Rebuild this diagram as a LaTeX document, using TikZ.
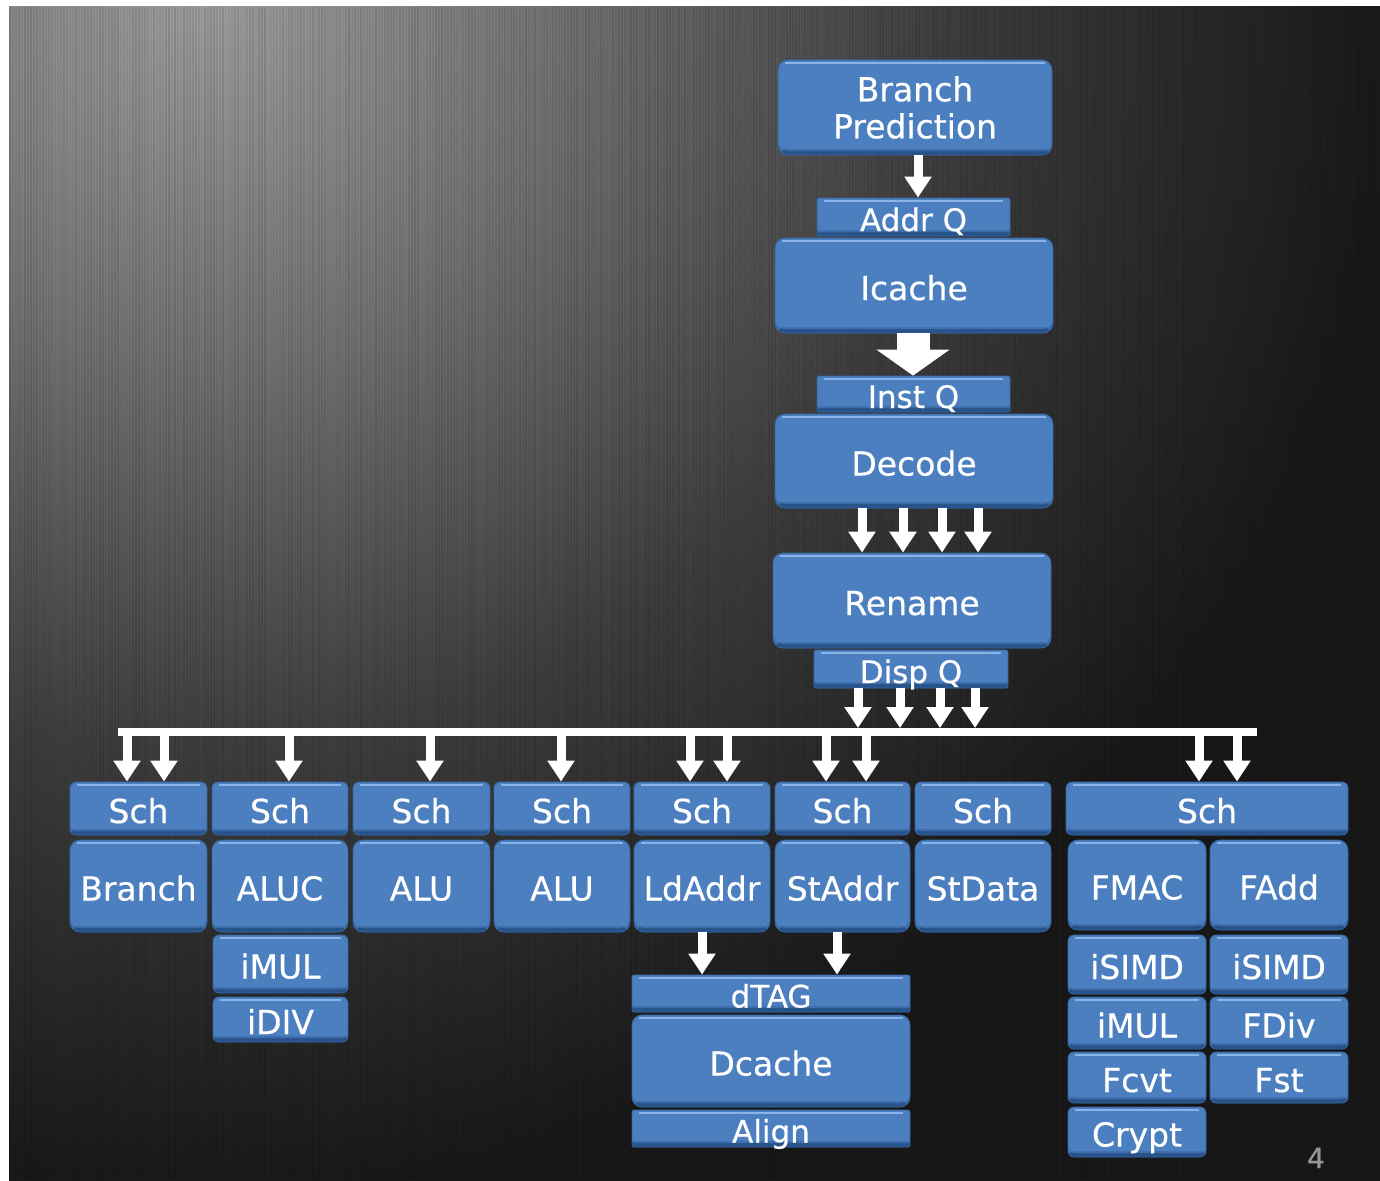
\documentclass[tikz,border=0pt]{standalone}
\usepackage{fontspec}
\setmainfont{DejaVu Sans}[FakeBold=0.5]
\usetikzlibrary{arrows.meta,calc}

\definecolor{face}{RGB}{76,127,192}
\definecolor{rim}{RGB}{40,82,138}
\definecolor{hilite}{RGB}{138,180,232}
\definecolor{slidedark}{RGB}{24,24,24}
\definecolor{glowA}{RGB}{158,158,158}
\definecolor{glowB}{RGB}{114,114,114}
\definecolor{glowC}{RGB}{62,62,62}
\definecolor{pagenum}{RGB}{150,150,150}

% soft light from the upper left of the slide
\pgfdeclareradialshading{slideglow}{\pgfpoint{0bp}{0bp}}{%
  color(0bp)=(glowA); color(3.6bp)=(glowB); color(7.5bp)=(glowC);
  color(12bp)=(slidedark); color(50bp)=(slidedark)}

\tikzset{
  unitbase/.style={fill=face, draw=rim!60!face, line width=0.8pt, text=white,
    inner sep=0pt, align=center, font=\fontsize{33}{37}\selectfont,
    path picture={
      \fill[rim] ([yshift=6pt]path picture bounding box.south west)
        rectangle (path picture bounding box.south east);
      \fill[face!65!rim] ([yshift=6pt]path picture bounding box.south west)
        rectangle ([yshift=4pt]path picture bounding box.south east);
      \draw[hilite, line width=1.8pt]
        ([xshift=7pt,yshift=-3pt]path picture bounding box.north west) --
        ([xshift=-7pt,yshift=-3pt]path picture bounding box.north east);
    }},
  unit/.style={unitbase, text height=29pt, text depth=0pt},
  twoline/.style={unitbase, rounded corners=10pt},
  bigbox/.style={unit, rounded corners=10pt},
  smallbox/.style={unit, rounded corners=6pt},
  queue/.style={unitbase, rounded corners=2pt, font=\fontsize{31}{35}\selectfont,
    text height=28pt, text depth=0pt},
  arr/.style={draw=white, line width=9pt, -{Triangle[width=26pt,length=21pt]}},
  bigarr/.style={draw=white, line width=33pt, -{Triangle[width=72pt,length=26pt]}},
  busline/.style={draw=white, line width=8pt},
}

% block given by its corners (x1,y1) (x2,y2) in pixel units
\newcommand\blk[7]{%
  \node[#1, minimum width={(#5-#3)*1pt}, minimum height={(#6-#4)*1pt}]
    (#2) at ({(#3+#5)/2},{(#4+#6)/2}) {#7};}

\begin{document}
\begin{tikzpicture}[x=1pt,y=-1pt]
\useasboundingbox (0,0) rectangle (1380,1180);

% slide background
\fill[white] (0,0) rectangle (1380,1180);
\begin{scope}
  \clip (9,7) rectangle (1380,1180);
  \fill[slidedark] (9,7) rectangle (1380,1180);
  \shade[shading=slideglow] (200,0) circle (2500pt);
  \pgfmathsetseed{7}
  \foreach \i in {0,...,456} {
    \pgfmathsetmacro\op{0.03+0.09*rnd}
    \draw[black, opacity=\op, line width=1.2pt] ({10+3*\i},7) -- ({10+3*\i},1180);
  }
\end{scope}

% front end
\blk{twoline}{bp}{778}{60}{1052}{155}{Branch\\Prediction}
\blk{queue}{addrq}{817}{198}{1010}{236}{Addr Q}
\blk{bigbox}{icache}{775}{238}{1053}{333}{Icache}
\blk{queue}{instq}{817}{376}{1010}{412}{Inst Q}
\blk{bigbox}{decode}{775}{414}{1053}{508}{Decode}
\blk{bigbox}{rename}{773}{553}{1051}{648}{Rename}
\blk{queue}{dispq}{814}{650}{1008}{688}{Disp Q}

% schedulers
\blk{smallbox}{s1}{70}{782}{207}{835}{Sch}
\blk{smallbox}{s2}{212}{782}{348}{835}{Sch}
\blk{smallbox}{s3}{353}{782}{490}{835}{Sch}
\blk{smallbox}{s4}{494}{782}{630}{835}{Sch}
\blk{smallbox}{s5}{634}{782}{770}{835}{Sch}
\blk{smallbox}{s6}{775}{782}{910}{835}{Sch}
\blk{smallbox}{s7}{915}{782}{1051}{835}{Sch}
\blk{smallbox}{s8}{1066}{782}{1348}{835}{Sch}

% execution units
\blk{bigbox}{branch}{70}{840}{207}{932}{Branch}
\blk{bigbox}{aluc}{212}{840}{348}{932}{ALUC}
\blk{bigbox}{alua}{353}{840}{490}{932}{ALU}
\blk{bigbox}{alub}{494}{840}{630}{932}{ALU}
\blk{bigbox}{ldaddr}{634}{840}{770}{932}{LdAddr}
\blk{bigbox}{staddr}{775}{840}{910}{932}{StAddr}
\blk{bigbox}{stdata}{915}{840}{1051}{932}{StData}
\blk{bigbox}{fmac}{1068}{840}{1206}{930}{FMAC}
\blk{bigbox}{fadd}{1210}{840}{1348}{930}{FAdd}

\blk{smallbox}{imula}{213}{935}{348}{993}{iMUL}
\blk{smallbox}{idiv}{213}{997}{348}{1042}{iDIV}

\blk{queue}{dtag}{632}{975}{910}{1012}{dTAG}
\blk{bigbox}{dcache}{632}{1015}{910}{1107}{Dcache}
\blk{queue}{align}{632}{1110}{910}{1147}{Align}

\blk{smallbox}{isimda}{1068}{935}{1206}{994}{iSIMD}
\blk{smallbox}{isimdb}{1210}{935}{1348}{994}{iSIMD}
\blk{smallbox}{imulb}{1068}{997}{1206}{1049}{iMUL}
\blk{smallbox}{fdiv}{1210}{997}{1348}{1049}{FDiv}
\blk{smallbox}{fcvt}{1068}{1052}{1206}{1103}{Fcvt}
\blk{smallbox}{fst}{1210}{1052}{1348}{1103}{Fst}
\blk{smallbox}{crypt}{1068}{1107}{1206}{1157}{Crypt}

% front-end arrows
\draw[arr] (918,0 |- bp.south) -- (918,0 |- addrq.north);
\draw[bigarr] (913,0 |- icache.south) -- (913,0 |- instq.north);
\foreach \x in {862,903,942,978}
  \draw[arr] (\x,0 |- decode.south) -- (\x,0 |- rename.north);

% dispatch bus
\coordinate (busL) at (118,732);
\coordinate (busR) at (1257,732);
\coordinate (bustop) at (118,728);
\draw[busline] (busL) -- (busR);
\foreach \x in {858,900,940,975}
  \draw[arr] (\x,0 |- dispq.south) -- (\x,0 |- bustop);

% bus to schedulers
\foreach \x/\s in {127/s1,164/s1,289/s2,430/s3,561/s4,690/s5,727/s5,826/s6,866/s6,1199/s8,1237/s8}
  \draw[arr] (\x,0 |- busL) -- (\x,0 |- \s.north);

% address generation to data cache
\draw[arr] (702,0 |- ldaddr.south) -- (702,0 |- dtag.north);
\draw[arr] (837,0 |- staddr.south) -- (837,0 |- dtag.north);

% slide number
\node[text=pagenum, font=\fontsize{28}{30}\selectfont, anchor=base, inner sep=0pt]
  (pnum) at (1316,1168) {4};
\end{tikzpicture}
\end{document}
